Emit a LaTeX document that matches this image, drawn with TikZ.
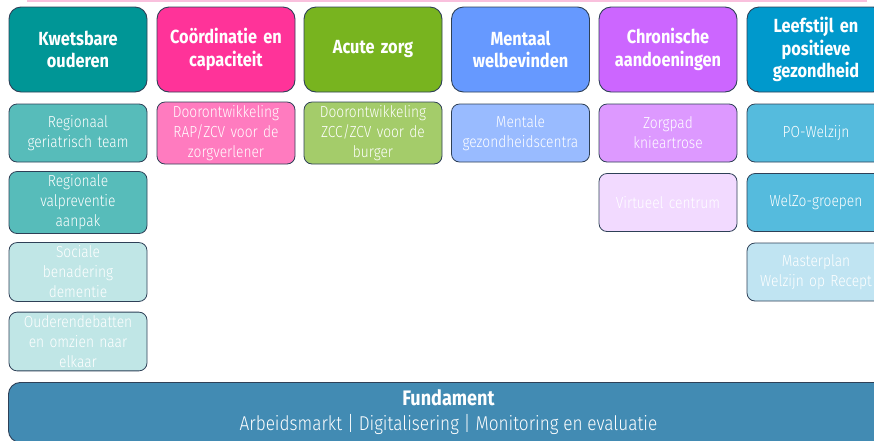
\documentclass[tikz,border=0pt]{standalone}
\usepackage{fontspec}
\setmainfont{Fira Sans}[FakeStretch=0.86]
\newfontfamily\thinfont{Fira Sans Light}[FakeStretch=0.86]
\usepackage{tikz}
\definecolor{rimblue}{RGB}{46, 64, 87}
\definecolor{topband}{RGB}{249, 192, 221}
\definecolor{kwteal}{RGB}{0, 150, 150}
\definecolor{kwtealmid}{RGB}{87, 188, 186}
\definecolor{kwteallow}{RGB}{192, 230, 230}
\definecolor{copink}{RGB}{255, 51, 153}
\definecolor{copinkmid}{RGB}{255, 123, 191}
\definecolor{acgreen}{RGB}{120, 180, 31}
\definecolor{acgreenmid}{RGB}{164, 204, 106}
\definecolor{meblue}{RGB}{102, 153, 255}
\definecolor{mebluemid}{RGB}{153, 187, 255}
\definecolor{chpurple}{RGB}{204, 102, 255}
\definecolor{chpurplemid}{RGB}{221, 153, 255}
\definecolor{chpurplelow}{RGB}{242, 218, 255}
\definecolor{lecyan}{RGB}{0, 153, 204}
\definecolor{lecyanmid}{RGB}{85, 187, 221}
\definecolor{lecyanlow}{RGB}{192, 228, 242}
\definecolor{fundblue}{RGB}{66, 139, 179}
\tikzset{
  pillar/.style={draw=rimblue,line width=.9pt,rounded corners=12pt,inner xsep=2pt,
    minimum width=138pt,minimum height=85pt,text width=134pt,align=center,
    text=white,font=\bfseries\fontsize{19}{22.5}\selectfont},
  item/.style={draw=rimblue,line width=.8pt,rounded corners=8pt,inner xsep=2pt,
    minimum width=138pt,minimum height=58pt,text width=134pt,align=center,
    text=white,font=\thinfont\fontsize{16}{20}\selectfont},
}
\begin{document}
\begin{tikzpicture}[x=1pt,y=-1pt]
        \useasboundingbox (0,0) rectangle (874,440);
        %\draw[step=10,gray,very thin] (0,0) grid (874,440);
        \fill[topband] (27,-6) rectangle (867,2);
        % pillars
        \node[pillar,fill=kwteal] (P1) at (78,49.5) {Kwetsbare\\ouderen};
        \node[pillar,fill=copink] (P2) at (226,49.5) {Coördinatie en\\capaciteit};
        \node[pillar,fill=acgreen] (P3) at (373,49.5) {Acute zorg};
        \node[pillar,fill=meblue] (P4) at (520.5,49.5) {Mentaal\\welbevinden};
        \node[pillar,fill=chpurple] (P5) at (668,49.5) {Chronische\\aandoeningen};
        \node[pillar,fill=lecyan] (P6) at (816,49.5) {Leefstijl en\\positieve\\gezondheid};
        % projects
        \node[item,fill=kwtealmid] (K1) at (78,133) {Regionaal\\geriatrisch team};
        \node[item,fill=kwtealmid] (K2) at (78,202.5) {Regionale\\valpreventie\\aanpak};
        \node[item,fill=kwteallow] (K3) at (78,272) {Sociale\\benadering\\dementie};
        \node[item,fill=kwteallow] (K4) at (78,341.5) {Ouderendebatten\\en omzien naar\\elkaar};
        \node[item,fill=copinkmid] (C1) at (226,133) {Doorontwikkeling\\RAP/ZCV voor de\\zorgverlener};
        \node[item,fill=acgreenmid] (A1) at (373,133) {Doorontwikkeling\\ZCC/ZCV voor de\\burger};
        \node[item,fill=mebluemid] (M1) at (520.5,133) {Mentale\\gezondheidscentra};
        \node[item,fill=chpurplemid] (H1) at (668,133) {Zorgpad\\knieartrose};
        \node[item,fill=chpurplelow] (H2) at (668,202.5) {Virtueel centrum};
        \node[item,fill=lecyanmid] (L1) at (816,133) {PO-Welzijn};
        \node[item,fill=lecyanmid] (L2) at (816,202.5) {WelZo-groepen};
        \node[item,fill=lecyanlow] (L3) at (816,272) {Masterplan\\Welzijn op Recept};
        % foundation
        \node[draw=rimblue,line width=.9pt,rounded corners=12pt,fill=fundblue,
          minimum width=880pt,minimum height=60pt,anchor=north west,
          text=white,align=center,font=\fontsize{20}{25}\selectfont]
          (F) at (8,382) {{\fontsize{21}{25}\selectfont\bfseries Fundament}\\{\thinfont Arbeidsmarkt | Digitalisering | Monitoring en evaluatie}};
      \end{tikzpicture}
\end{document}
